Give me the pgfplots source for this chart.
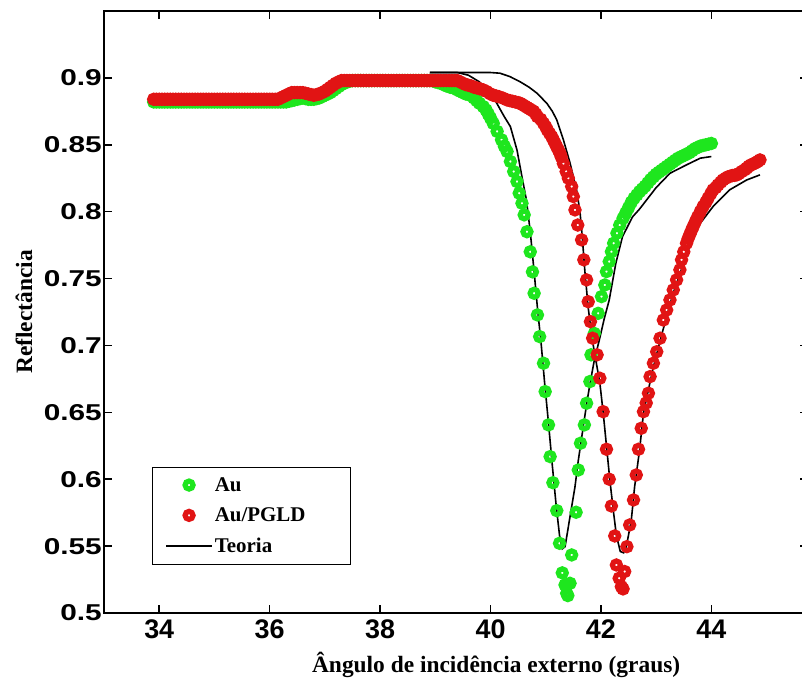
\documentclass[border=0pt]{standalone}
\usepackage{pgfplots}
\pgfplotsset{compat=1.18}
\usepackage{fontspec}
\newfontfamily\ytfont[FakeStretch=1.3]{Liberation Sans}
\newfontfamily\xtfont{Liberation Sans}
\newfontfamily\lblfont{Liberation Serif}
\definecolor{mgreen}{RGB}{30,230,30}
\definecolor{mred}{RGB}{225,20,20}
\pgfplotsset{
  markleg/.style={legend image code/.code={\draw[mark repeat=2,mark phase=2,##1] plot coordinates {(0bp,0bp)(23bp,0bp)(46bp,0bp)};}},
  lineleg/.style={legend image code/.code={\draw[##1] (0bp,0bp) -- (46bp,0bp);}},
}

\pgfplotstableread{
x y
33.90 0.882
33.95 0.882
34.00 0.882
34.05 0.882
34.10 0.882
34.15 0.882
34.20 0.882
34.25 0.882
34.30 0.882
34.35 0.882
34.40 0.882
34.45 0.882
34.50 0.882
34.55 0.882
34.60 0.882
34.65 0.882
34.70 0.882
34.75 0.882
34.80 0.882
34.85 0.882
34.90 0.882
34.95 0.882
35.00 0.882
35.05 0.882
35.10 0.882
35.15 0.882
35.20 0.882
35.25 0.882
35.30 0.882
35.35 0.882
35.40 0.882
35.45 0.882
35.50 0.882
35.55 0.882
35.60 0.882
35.65 0.882
35.70 0.882
35.75 0.882
35.80 0.882
35.85 0.882
35.90 0.882
35.95 0.882
36.00 0.882
36.05 0.882
36.10 0.882
36.15 0.882
36.20 0.882
36.25 0.882
36.30 0.882
36.35 0.8825
36.40 0.883
36.45 0.8835
36.50 0.884
36.55 0.8845
36.60 0.885
36.65 0.8845
36.70 0.884
36.75 0.884
36.80 0.884
36.85 0.8845
36.90 0.885
36.95 0.886
37.00 0.887
37.05 0.888
37.10 0.889
37.15 0.8905
37.20 0.892
37.25 0.8935
37.30 0.895
37.35 0.896
37.40 0.897
37.45 0.8975
37.50 0.898
37.55 0.898
37.60 0.898
37.65 0.898
37.70 0.898
37.75 0.898
37.80 0.898
37.85 0.898
37.90 0.898
37.95 0.898
38.00 0.898
38.05 0.898
38.10 0.898
38.15 0.898
38.20 0.898
38.25 0.898
38.30 0.898
38.35 0.898
38.40 0.898
38.45 0.898
38.50 0.898
38.55 0.898
38.60 0.898
38.65 0.898
38.70 0.898
38.75 0.898
38.80 0.898
38.85 0.898
38.90 0.898
38.95 0.898
39.00 0.897
39.05 0.8965
39.10 0.896
39.15 0.895
39.20 0.894
39.27 0.893
39.33 0.8925
39.40 0.891
39.45 0.890
39.50 0.889
39.55 0.888
39.63 0.887
39.70 0.885
39.75 0.883
39.80 0.881
39.87 0.8785
39.92 0.876
39.96 0.873
40.00 0.870
40.05 0.866
40.12 0.860
40.20 0.8537
40.25 0.849
40.30 0.845
40.36 0.8375
40.42 0.830
40.48 0.8225
40.52 0.8138
40.57 0.8063
40.61 0.7976
40.66 0.785
40.72 0.770
40.76 0.755
40.79 0.739
40.85 0.7228
40.89 0.7066
40.96 0.6867
40.99 0.6655
41.05 0.6406
41.08 0.6169
41.13 0.5974
41.20 0.5765
41.25 0.5521
41.30 0.530
41.35 0.521
41.38 0.5147
41.40 0.513
41.44 0.5222
41.47 0.5434
41.55 0.5753
41.59 0.6069
41.63 0.6269
41.70 0.6406
41.74 0.6568
41.80 0.673
41.82 0.693
41.88 0.709
41.95 0.724
42.01 0.7365
42.07 0.7452
42.10 0.7552
42.15 0.7627
42.19 0.7701
42.23 0.7764
42.29 0.7839
42.34 0.790
42.40 0.795
42.45 0.799
42.50 0.803
42.55 0.807
42.60 0.810
42.65 0.8125
42.70 0.815
42.75 0.817
42.80 0.819
42.85 0.8215
42.90 0.824
42.95 0.826
43.00 0.828
43.05 0.8295
43.10 0.831
43.15 0.8325
43.20 0.834
43.25 0.8355
43.30 0.837
43.35 0.8385
43.40 0.840
43.45 0.841
43.50 0.842
43.55 0.843
43.60 0.844
43.65 0.8455
43.70 0.847
43.75 0.848
43.80 0.849
43.85 0.8495
43.90 0.850
43.95 0.8505
44.00 0.851
}\tabAu

\pgfplotstableread{
x y
33.90 0.884
33.95 0.884
34.00 0.884
34.05 0.884
34.10 0.884
34.15 0.884
34.20 0.884
34.25 0.884
34.30 0.884
34.35 0.884
34.40 0.884
34.45 0.884
34.50 0.884
34.55 0.884
34.60 0.884
34.65 0.884
34.70 0.884
34.75 0.884
34.80 0.884
34.85 0.884
34.90 0.884
34.95 0.884
35.00 0.884
35.05 0.884
35.10 0.884
35.15 0.884
35.20 0.884
35.25 0.884
35.30 0.884
35.35 0.884
35.40 0.884
35.45 0.884
35.50 0.884
35.55 0.884
35.60 0.884
35.65 0.884
35.70 0.884
35.75 0.884
35.80 0.884
35.85 0.884
35.90 0.884
35.95 0.884
36.00 0.884
36.05 0.884
36.10 0.884
36.15 0.884
36.20 0.885
36.25 0.886
36.30 0.887
36.35 0.888
36.40 0.889
36.45 0.889
36.50 0.889
36.55 0.889
36.60 0.889
36.65 0.8885
36.70 0.888
36.75 0.8875
36.80 0.887
36.85 0.8875
36.90 0.888
36.95 0.889
37.00 0.890
37.05 0.8915
37.10 0.893
37.15 0.8945
37.20 0.896
37.25 0.897
37.30 0.898
37.35 0.898
37.40 0.898
37.45 0.898
37.50 0.898
37.55 0.898
37.60 0.898
37.65 0.898
37.70 0.898
37.75 0.898
37.80 0.898
37.85 0.898
37.90 0.898
37.95 0.898
38.00 0.898
38.05 0.898
38.10 0.898
38.15 0.898
38.20 0.898
38.25 0.898
38.30 0.898
38.35 0.898
38.40 0.898
38.45 0.898
38.50 0.898
38.55 0.898
38.60 0.898
38.65 0.898
38.70 0.898
38.75 0.898
38.80 0.898
38.85 0.898
38.90 0.898
38.95 0.898
39.00 0.898
39.05 0.898
39.10 0.898
39.15 0.898
39.20 0.898
39.25 0.898
39.30 0.898
39.35 0.898
39.40 0.898
39.45 0.897
39.50 0.896
39.55 0.895
39.60 0.8945
39.65 0.894
39.70 0.893
39.75 0.8925
39.80 0.892
39.87 0.891
39.93 0.8898
40.00 0.888
40.05 0.887
40.10 0.8865
40.15 0.886
40.23 0.8848
40.30 0.8835
40.35 0.883
40.40 0.8825
40.45 0.882
40.50 0.8815
40.54 0.881
40.58 0.880
40.62 0.879
40.66 0.878
40.70 0.877
40.74 0.876
40.78 0.875
40.82 0.873
40.85 0.871
40.91 0.869
40.96 0.866
41.00 0.8635
41.03 0.861
41.07 0.8585
41.11 0.856
41.14 0.8535
41.17 0.851
41.20 0.8485
41.23 0.846
41.26 0.8435
41.28 0.841
41.32 0.836
41.37 0.830
41.41 0.825
41.47 0.8188
41.50 0.8113
41.53 0.8013
41.58 0.790
41.65 0.7789
41.69 0.764
41.74 0.749
41.77 0.7327
41.81 0.7178
41.85 0.7054
41.93 0.693
41.98 0.6755
42.04 0.6505
42.10 0.6224
42.15 0.600
42.19 0.580
42.25 0.5576
42.28 0.5359
42.33 0.526
42.37 0.5197
42.40 0.518
42.43 0.531
42.47 0.5496
42.52 0.5658
42.59 0.5845
42.64 0.6032
42.68 0.6224
42.73 0.6381
42.77 0.6505
42.82 0.657
42.86 0.6643
42.89 0.6767
42.95 0.6867
43.01 0.6953
43.07 0.7054
43.13 0.719
43.19 0.7265
43.25 0.734
43.31 0.7415
43.37 0.749
43.43 0.7565
43.46 0.764
43.50 0.770
43.55 0.7764
43.58 0.780
43.61 0.783
43.64 0.786
43.67 0.7888
43.71 0.7925
43.75 0.796
43.80 0.800
43.85 0.8038
43.90 0.807
43.94 0.810
43.99 0.8135
44.03 0.8163
44.08 0.818
44.12 0.820
44.17 0.822
44.21 0.8237
44.26 0.825
44.30 0.826
44.34 0.8265
44.38 0.827
44.42 0.8272
44.46 0.8275
44.50 0.8285
44.55 0.830
44.60 0.8312
44.64 0.8325
44.68 0.834
44.72 0.835
44.76 0.8357
44.80 0.8365
44.84 0.8375
44.88 0.8387
}\tabPGLD

\pgfplotstableread{
x y
38.90 0.904
39.40 0.904
39.60 0.902
39.80 0.897
39.95 0.891
40.10 0.882
40.25 0.871
40.36 0.8636
40.48 0.846
40.57 0.826
40.65 0.8088
40.72 0.785
40.79 0.755
40.85 0.728
40.92 0.700
40.98 0.672
41.05 0.642
41.12 0.610
41.19 0.580
41.25 0.558
41.30 0.548
41.35 0.5496
41.44 0.572
41.53 0.5944
41.59 0.614
41.68 0.6393
41.74 0.656
41.80 0.671
41.88 0.689
41.97 0.704
42.06 0.720
42.15 0.734
42.27 0.7615
42.39 0.7813
42.57 0.796
42.70 0.802
42.85 0.810
43.00 0.818
43.25 0.8287
43.55 0.835
43.80 0.840
44.00 0.8412
}\tabTeoAu

\pgfplotstableread{
x y
38.90 0.904
40.00 0.904
40.17 0.9035
40.35 0.901
40.54 0.897
40.70 0.893
40.84 0.8886
41.02 0.881
41.12 0.875
41.20 0.8686
41.32 0.8537
41.44 0.8364
41.56 0.816
41.62 0.800
41.66 0.782
41.71 0.755
41.77 0.728
41.84 0.705
41.92 0.686
41.98 0.672
42.04 0.650
42.10 0.625
42.16 0.600
42.22 0.578
42.28 0.558
42.35 0.546
42.41 0.545
42.46 0.5496
42.55 0.5695
42.61 0.5944
42.70 0.6219
42.77 0.6493
42.85 0.665
42.95 0.684
43.10 0.708
43.30 0.738
43.50 0.762
43.65 0.779
43.80 0.7914
44.03 0.8038
44.33 0.8163
44.64 0.8237
44.88 0.8275
}\tabTeoPGLD

\begin{document}
\begin{tikzpicture}
\useasboundingbox (-104bp,-70bp) rectangle (698bp,613bp);
\begin{axis}[
  width=704bp, height=602bp, scale only axis,
  xmin=33, xmax=45.75, ymin=0.5, ymax=0.95,
  xtick={34,36,38,40,42,44}, xticklabels={34,36,38,40,42,44},
  ytick={0.5,0.55,0.6,0.65,0.7,0.75,0.8,0.85,0.9},
  yticklabels={0.5,0.55,0.6,0.65,0.7,0.75,0.8,0.85,0.9},
  tick align=inside, major tick length=8bp,
  every tick/.style={black, line width=1.5bp},
  axis line style={line width=2bp},
  xticklabel style={font=\xtfont\bfseries\fontsize{27}{30}\selectfont, yshift=-3bp},
  yticklabel style={font=\ytfont\bfseries\fontsize{23}{26}\selectfont, inner sep=2bp},
  xlabel={Ângulo de incidência externo (graus)},
  ylabel={Reflectância},
  label style={font=\lblfont\bfseries\fontsize{23.5}{27}\selectfont},
  xlabel style={at={(axis description cs:0.557,-0.098)}, anchor=base},
  ylabel style={at={(axis description cs:-0.102,0.5)}, anchor=base},
  legend style={at={(axis description cs:0.068,0.2425)}, anchor=north west,
    draw=black, line width=0.8bp, fill=white,
    font=\lblfont\bfseries\fontsize{21}{24}\selectfont,
    inner xsep=13bp, inner ysep=8bp, row sep=11bp},
  legend cell align=left,
]
\addplot[only marks, mark=o, mark size=4bp, color=mgreen, mark options={line width=5.2bp}, markleg]
  table[x=x,y=y] {\tabAu};
\addlegendentry{Au}
\addplot[black, line width=1.6bp, forget plot] table[x=x,y=y] {\tabTeoAu};
\addplot[only marks, mark=o, mark size=4bp, color=mred, mark options={line width=5.2bp}, markleg]
  table[x=x,y=y] {\tabPGLD};
\addlegendentry{Au/PGLD\rule{30bp}{0pt}}
\addplot[black, line width=1.6bp, lineleg]
  table[x=x,y=y] {\tabTeoPGLD};
\addlegendentry{Teoria}
\end{axis}
\end{tikzpicture}
\end{document}
